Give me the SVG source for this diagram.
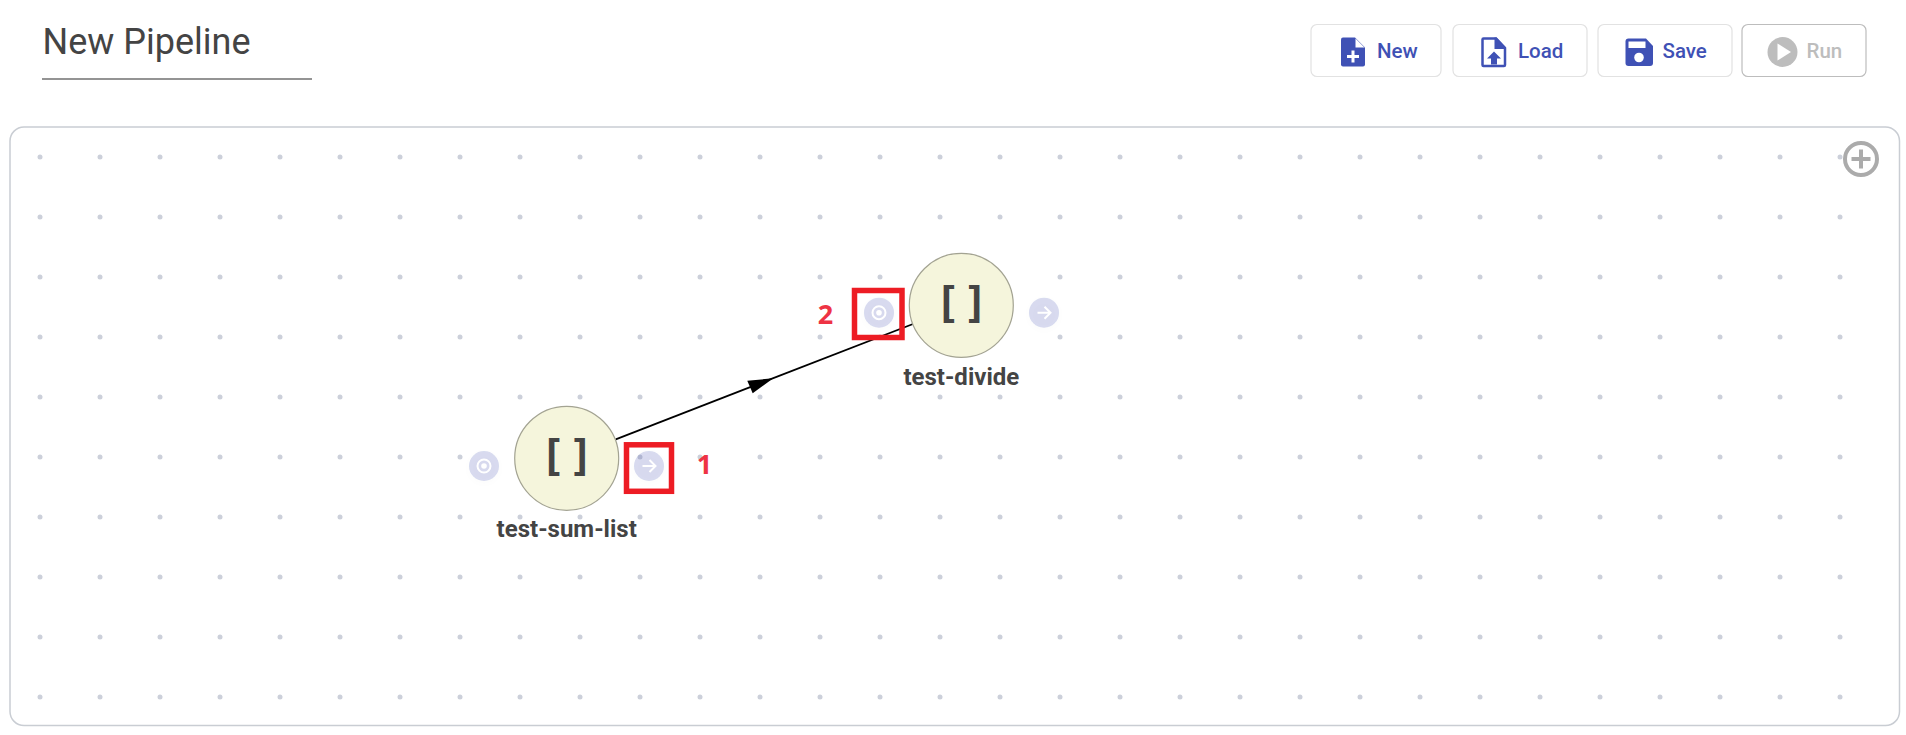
<svg xmlns="http://www.w3.org/2000/svg" width="1906" height="735" viewBox="0 0 1906 735">
<style>
text{font-family:Roboto,"Liberation Sans",sans-serif}
.btn{fill:#fff;stroke:#e2e2e2;stroke-width:1.2}
.btnt{font-size:20.5px;font-weight:500;fill:#3f51b5}
.ic{fill:#3f51b5}
.node{fill:#f5f5dc;stroke:#a3a392;stroke-width:1.2}
.lab{font-size:24px;font-weight:700;fill:#444;text-anchor:middle}
.br{font-family:"DejaVu Sans Mono",monospace;font-size:42px;font-weight:700;fill:#444;text-anchor:middle}
.port{fill:#3f51b5;fill-opacity:.2;filter:url(#sh)}
.pi{fill:none;stroke:#fff;stroke-width:2}
.red{fill:none;stroke:#ed1c24;stroke-width:5.5}
.num{font-family:"Open Sans",sans-serif;font-size:27px;font-weight:700;fill:#ee3344;text-anchor:middle}
</style>
<defs>
<pattern id="dots" x="10" y="127" width="60" height="60" patternUnits="userSpaceOnUse"><circle cx="30" cy="30" r="2.500" fill="#ccd0da"/></pattern>
<filter id="sh" x="-50%" y="-50%" width="200%" height="200%"><feDropShadow dx="0" dy="2" stdDeviation="3" flood-color="#000" flood-opacity=".08"/></filter>
</defs>
<rect width="1906" height="735" fill="#fff"/>
<g id="title">
<text x="42.500" y="54" font-size="36" fill="#444">New Pipeline</text>
<rect x="42" y="78" width="270" height="2" fill="#949494"/>
</g>
<g id="btn-new">
<rect class="btn" x="1311" y="24.500" width="130" height="52" rx="6"/>
<path class="ic" d="M1343 37.500h12l10 10v17a2 2 0 0 1-2 2h-20a2 2 0 0 1-2-2v-25a2 2 0 0 1 2-2z"/>
<path d="M1355.500 38.500v9h9z" fill="#fff"/>
<path d="M1353 50.500v12M1347 56.500h12" stroke="#fff" stroke-width="3" fill="none"/>
<text class="btnt" x="1377" y="57.500">New</text>
</g>
<g id="btn-load">
<rect class="btn" x="1453" y="24.500" width="134" height="52" rx="6"/>
<path d="M1483.500 38.500h12.500l9 9.500v17a1 1 0 0 1-1 1h-20.500a1 1 0 0 1-1-1v-25.500a1 1 0 0 1 1-1z" fill="#fff" stroke="#3f51b5" stroke-width="2.500"/>
<path class="ic" d="M1494.500 37.500h2l9.500 10v1.500h-11.500z"/>
<path class="ic" d="M1494 51.500l7 7h-4v6h-6v-6h-4z"/>
<text class="btnt" x="1518" y="57.500">Load</text>
</g>
<g id="btn-save">
<rect class="btn" x="1598" y="24.500" width="134" height="52" rx="6"/>
<path class="ic" d="M1628.500 38.500h17.500l7 7.500v17a3 3 0 0 1-3 3h-21.500a3 3 0 0 1-3-3v-21.500a3 3 0 0 1 3-3z"/>
<rect x="1628.500" y="41.500" width="17" height="6.500" fill="#fff"/>
<circle cx="1639" cy="57.500" r="4.800" fill="#fff"/>
<text class="btnt" x="1662.500" y="57.500">Save</text>
</g>
<g id="btn-run">
<rect class="btn" style="stroke:#bdbdbd" x="1742" y="24.500" width="124" height="52" rx="6"/>
<circle cx="1782.500" cy="52" r="15" fill="#bdbdbd"/>
<path d="M1777.500 43.500l13.500 8.500-13.500 8.500z" fill="#fff"/>
<text class="btnt" style="fill:#bdbdbd" x="1806.500" y="57.500">Run</text>
</g>
<g id="canvas">
<rect x="10" y="127" width="1889.500" height="598.500" rx="14" fill="#fff" stroke="#c9cdd3" stroke-width="1.500"/>
<rect x="31" y="148" width="1818" height="558" fill="url(#dots)"/>
<circle cx="1861" cy="159" r="16" fill="none" stroke="#ababab" stroke-width="4"/>
<path d="M1861 149.500v19M1851.500 159h19" stroke="#ababab" stroke-width="4" fill="none"/>
</g>
<g id="connectors">
<line x1="615.700" y1="439.300" x2="913" y2="324" stroke="#000" stroke-width="1.800"/>
<path d="M773.300 378.300L747.300 380.700L752.700 393.300z" fill="#000"/>
</g>
<g id="node-test-sum-list">
<circle class="node" cx="566.700" cy="458.300" r="52"/>
<text class="br" x="553 567 580.800" y="471">[ ]</text>
<text class="lab" x="566.700" y="537">test-sum-list</text>
<circle class="port" cx="484" cy="466" r="15"/>
<circle class="pi" cx="484" cy="466" r="6.500"/>
<circle cx="484" cy="466" r="2.800" fill="#fff"/>
<circle class="port" cx="649" cy="466" r="15"/>
<path class="pi" d="M642.500 466h12.500M649.500 460l6 6-6 6"/>
</g>
<g id="node-test-divide">
<circle class="node" cx="961.300" cy="305.300" r="52"/>
<text class="br" x="947.600 961.600 975.400" y="318">[ ]</text>
<text class="lab" x="961.300" y="384.500">test-divide</text>
<circle class="port" cx="879" cy="312.700" r="15"/>
<circle class="pi" cx="879" cy="312.700" r="6.500"/>
<circle cx="879" cy="312.700" r="2.800" fill="#fff"/>
<circle class="port" cx="1044" cy="312.700" r="15"/>
<path class="pi" d="M1037.500 312.700h12.500M1044.500 306.700l6 6-6 6"/>
</g>
<g id="callouts">
<rect class="red" x="626.500" y="444.800" width="45" height="46.500"/>
<text class="num" x="704.500" y="474">1</text>
<rect class="red" x="854.500" y="290.500" width="47.500" height="47"/>
<text class="num" x="825.500" y="324">2</text>
</g>
</svg>
